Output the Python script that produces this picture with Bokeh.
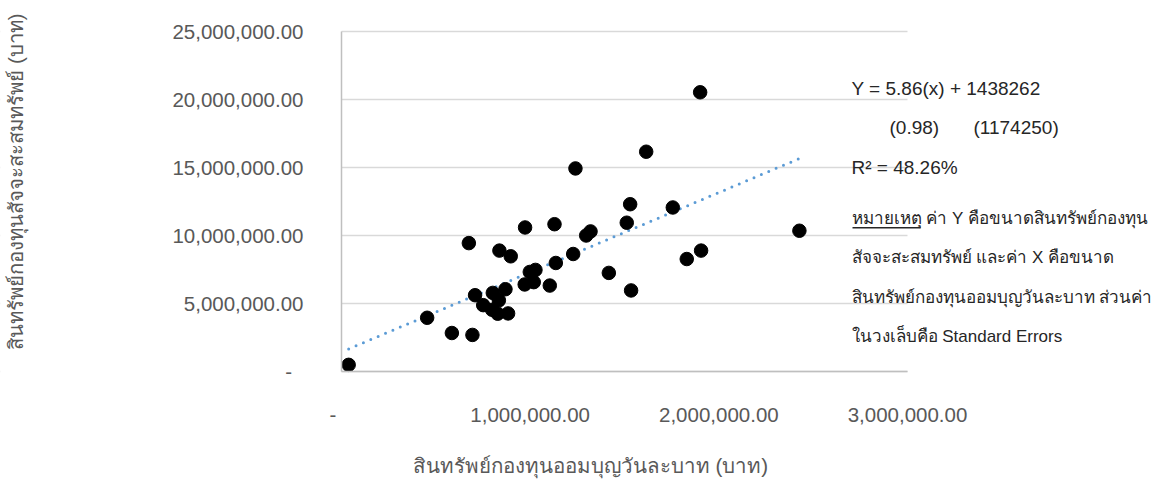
import math
from bokeh.plotting import figure
from bokeh.models import Range1d, FixedTicker, Label, BoxAnnotation
from bokeh.embed import file_html
from bokeh.resources import INLINE

# ---------------- data ----------------
savings_assets = [38000, 454000, 585000, 694000, 675000, 708000, 751000, 802000, 834000,
                  798000, 828000, 883000, 869000, 837000, 897000, 973000, 971000, 998000,
                  1028000, 1019000, 1104000, 1129000, 1136000, 1228000, 1297000, 1320000,
                  1417000, 1512000, 1530000, 1535000, 1756000, 2427000, 1830000, 1906000,
                  1901000, 1615000, 1240000]
sacca_assets = [490000, 3950000, 2830000, 2690000, 9440000, 5610000, 4880000, 5780000, 5230000,
                4540000, 4250000, 4270000, 6050000, 8890000, 8470000, 10590000, 6400000, 7320000,
                7470000, 6570000, 6320000, 10830000, 7980000, 8640000, 10000000, 10300000,
                7250000, 10940000, 12300000, 5960000, 12060000, 10350000, 8270000, 8890000,
                20530000, 16160000, 14930000]

slope = 5.86
intercept = 1438262
slope_se = 0.98
intercept_se = 1174250
r_squared = 48.26

x_ticks = [0, 1000000, 2000000, 3000000]
x_tick_labels = ["-\u00a0\u00a0\u00a0", "1,000,000.00", "2,000,000.00", "3,000,000.00"]
y_ticks = [0, 5000000, 10000000, 15000000, 20000000, 25000000]
y_tick_labels = ["-\u00a0\u00a0", "5,000,000.00", "10,000,000.00", "15,000,000.00",
                 "20,000,000.00", "25,000,000.00"]

x_title = "สินทรัพย์กองทุนออมบุญวันละบาท (บาท)"
y_title = "สินทรัพย์กองทุนสัจจะสะสมทรัพย์ (บาท)"
note_lines = [
    "หมายเหตุ ค่า Y คือขนาดสินทรัพย์กองทุน",
    "สัจจะสะสมทรัพย์ และค่า X คือขนาด",
    "สินทรัพย์กองทุนออมบุญวันละบาท ส่วนค่า",
    "ในวงเล็บคือ Standard Errors",
]

# ---------------- layout ----------------
W, H = 1164, 480
X_MAX, Y_MAX = 3000000, 25000000
PA_L, PA_R, PA_T, PA_B = 341, 907, 31, 371      # plot-area edges in canvas pixels
XPP = X_MAX / (PA_R - PA_L)
YPP = Y_MAX / (PA_B - PA_T)

def dx(px):
    return (px - PA_L) * XPP

def dy(py):
    return (PA_B - py) * YPP

p = figure(width=W, height=H, output_backend="svg", toolbar_location=None,
           x_range=Range1d(dx(0), dx(W)), y_range=Range1d(dy(H), dy(0)),
           min_border_left=0, min_border_right=0, min_border_top=0, min_border_bottom=0)
p.outline_line_color = None
p.background_fill_color = "white"
p.border_fill_color = "white"

FONT = "Liberation Sans"
TICK_COLOR = "#595959"

p.xaxis.fixed_location = 0
p.yaxis.fixed_location = 0
p.xaxis.bounds = (0, X_MAX)
p.yaxis.bounds = (0, Y_MAX)
p.xaxis.ticker = FixedTicker(ticks=x_ticks)
p.yaxis.ticker = FixedTicker(ticks=y_ticks)
p.xaxis.major_label_overrides = {t: l for t, l in zip(x_ticks, x_tick_labels)}
p.yaxis.major_label_overrides = {t: l for t, l in zip(y_ticks, y_tick_labels)}
for ax in (p.xaxis, p.yaxis):
    ax.major_tick_line_color = None
    ax.minor_tick_line_color = None
    ax.major_tick_out = 0
    ax.major_tick_in = 0
    ax.minor_tick_out = 0
    ax.axis_line_color = "#bfbfbf"
    ax.axis_line_width = 1.5
    ax.major_label_text_font = FONT
    ax.major_label_text_font_size = "20.5px"
    ax.major_label_text_color = TICK_COLOR
p.xaxis.major_label_standoff = 31
p.yaxis.major_label_standoff = 38

p.xgrid.grid_line_color = None
p.ygrid.grid_line_color = "#d9d9d9"
p.ygrid.grid_line_width = 1.5
p.ygrid.ticker = FixedTicker(ticks=y_ticks)

# white masks so the gridlines stop at the plot-area edges
for kw in (dict(right=0), dict(left=X_MAX)):
    p.add_layout(BoxAnnotation(fill_color="white", fill_alpha=1, line_color=None,
                               level="underlay", **kw))

# trend line (from the printed regression)
tx = [min(savings_assets), max(savings_assets)]
ty = [slope * v + intercept for v in tx]
p.line(tx, ty, line_color="#5b9bd5", line_width=3, line_dash="0 8", line_cap="round")

p.scatter(savings_assets, sacca_assets, size=13.5, fill_color="black", line_color="black")

# axis titles
p.add_layout(Label(x=dx(590), y=dy(465), text=x_title, text_font=FONT,
                   text_font_size="20.5px", text_color=TICK_COLOR,
                   text_align="center", text_baseline="middle"))
p.add_layout(Label(x=dx(15), y=dy(181), text=y_title, text_font=FONT,
                   text_font_size="20.3px", text_color=TICK_COLOR, angle=math.pi / 2,
                   text_align="center", text_baseline="middle"))

# regression text box
TXT = "#262626"
def note(px, py, txt, size="19px"):
    p.add_layout(Label(x=dx(px), y=dy(py), text=txt, text_font=FONT,
                       text_font_size=size, text_color=TXT,
                       text_align="left", text_baseline="middle"))

note(851, 88, f"Y = {slope}(x) + {intercept}")
note(889, 127, f"({slope_se})")
note(973, 127, f"({intercept_se})")
note(851, 167, f"R² = {r_squared}%")
for i, line in enumerate(note_lines):
    note(851, [218, 257, 297, 336][i], line, size="17px")

p.add_layout(BoxAnnotation(left=dx(852), right=dx(920), top=dy(226.5), bottom=dy(228),
                           fill_color=TXT, fill_alpha=1, line_color=None))

open("out.html", "w").write(file_html(p, INLINE))
